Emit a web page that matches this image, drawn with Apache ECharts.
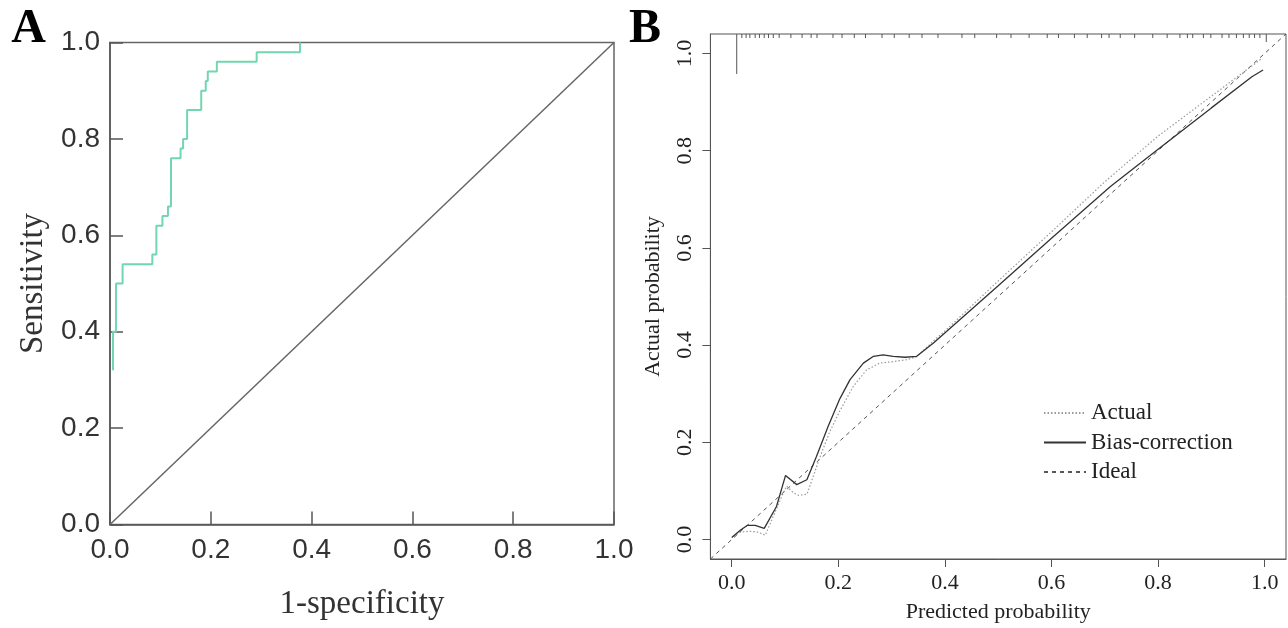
<!DOCTYPE html>
<html>
<head>
<meta charset="utf-8">
<script src="https://cdn.jsdelivr.net/npm/echarts@6/dist/echarts.min.js"></script>
<style>
html,body{margin:0;padding:0;background:#fff;}
#c{width:1288px;height:628px;}
</style>
</head>
<body>
<div id="c"></div>
<script>
// ---- Panel A: ROC curve (step vertices, step 'end') ----
const rocFpr = [0.006,0.006,0.012,0.025,0.084,0.092,0.104,0.115,0.121,0.140,0.145,0.153,0.181,0.190,0.194,0.212,0.291,0.377];
const rocTpr = [0.32,0.40,0.50,0.54,0.56,0.62,0.64,0.66,0.76,0.78,0.80,0.86,0.90,0.92,0.94,0.96,0.98,1.00];
const diagX = [0,1];
const diagY = [0,1];
const tickValues = [0,0.2,0.4,0.6,0.8,1.0];

// ---- Panel B: calibration curves ----
const biasX = [0.000,0.016,0.029,0.044,0.061,0.084,0.101,0.122,0.141,0.159,0.181,0.203,0.222,0.247,0.266,0.284,0.303,0.325,0.347,0.378,0.403,0.500,0.600,0.710,0.800,0.900,0.976,0.997];
const biasY = [0.004,0.019,0.029,0.029,0.023,0.068,0.132,0.113,0.123,0.171,0.233,0.290,0.329,0.363,0.377,0.380,0.377,0.375,0.377,0.404,0.428,0.522,0.620,0.726,0.803,0.888,0.952,0.966];
const actualX = [0.003,0.016,0.031,0.047,0.063,0.078,0.094,0.103,0.116,0.125,0.141,0.153,0.166,0.184,0.203,0.228,0.253,0.278,0.303,0.328,0.347,0.380,0.403,0.500,0.600,0.700,0.800,0.900,0.995];
const actualY = [0.007,0.015,0.017,0.016,0.009,0.048,0.089,0.110,0.096,0.091,0.093,0.130,0.171,0.222,0.265,0.315,0.349,0.363,0.366,0.370,0.376,0.410,0.432,0.532,0.633,0.736,0.830,0.912,0.990];
const idealX = [-0.04,1.04];
const idealY = [-0.04,1.04];
const rugX = [0.0094,0.019,0.027,0.034,0.044,0.052,0.061,0.069,0.078,0.089,0.111,0.132,0.149,0.160,0.190,0.207,0.230,0.251,0.282,0.305,0.333,0.357,0.387,0.432,0.456,0.497,0.524,0.558,0.592,0.613,0.643,0.667,0.694,0.708,0.729,0.756,0.790,0.817,0.841,0.855,0.865,0.885,0.899,0.920,0.933,0.947,0.960,0.971,0.981,0.991,1.003];
const rugCount = [10,1,1,1,1,1,1,1,1,1,1,1,1,1,1,1,1,1,1,1,1,1,1,1,1,1,1,1,1,1,1,1,1,1,1,1,1,1,1,1,1,1,1,1,1,1,1,1,1,1,2];

const zip = (a,b) => a.map((v,i)=>[v,b[i]]);
const fmt = v => v.toFixed(1);
const serif = 'Liberation Serif';
const sans = 'Liberation Sans';

const chart = echarts.init(document.getElementById('c'), null, {renderer:'canvas'});
chart.setOption({
  animation:false,
  backgroundColor:'#ffffff',
  graphic:[
    {type:'text', x:28.5, y:30, style:{text:'A', font:'bold 48px "Liberation Serif"', fill:'#000', align:'center', verticalAlign:'middle'}},
    {type:'text', x:645, y:30, style:{text:'B', font:'bold 48px "Liberation Serif"', fill:'#000', align:'center', verticalAlign:'middle'}}
  ],
  grid:[
    {left:110, top:42.5, width:504, height:482, show:true, borderColor:'#666', borderWidth:1.5, backgroundColor:'transparent', containLabel:false},
    {left:710.4, top:34, width:575.6, height:525.5, show:true, borderColor:'#555', borderWidth:1, backgroundColor:'transparent', containLabel:false}
  ],
  xAxis:[
    {gridIndex:0, type:'value', min:0, max:1, interval:0.2,
     axisLine:{show:true, onZero:false, lineStyle:{color:'#555', width:1.5}},
     axisTick:{show:true, inside:true, length:13, lineStyle:{color:'#555', width:1.5}},
     axisLabel:{formatter:fmt, fontFamily:sans, fontSize:28, color:'#333', margin:12},
     splitLine:{show:false},
     name:'1-specificity', nameLocation:'middle', nameGap:63,
     nameTextStyle:{fontFamily:serif, fontSize:33, color:'#333'}},
    {gridIndex:1, type:'value', min:-0.04, max:1.04,
     axisLine:{show:true, onZero:false, lineStyle:{color:'#555', width:1}},
     axisTick:{show:true, length:8, customValues:tickValues, lineStyle:{color:'#555', width:1}},
     axisLabel:{customValues:tickValues, formatter:fmt, fontFamily:serif, fontSize:22, color:'#222', margin:13},
     splitLine:{show:false},
     name:'Predicted probability', nameLocation:'middle', nameGap:42,
     nameTextStyle:{fontFamily:serif, fontSize:22, color:'#222'}}
  ],
  yAxis:[
    {gridIndex:0, type:'value', min:0, max:1, interval:0.2,
     axisLine:{show:true, onZero:false, lineStyle:{color:'#555', width:1.5}},
     axisTick:{show:true, inside:true, length:13, lineStyle:{color:'#555', width:1.5}},
     axisLabel:{formatter:fmt, fontFamily:sans, fontSize:28, color:'#333', margin:10},
     splitLine:{show:false},
     name:'Sensitivity', nameLocation:'middle', nameGap:60, nameRotate:90,
     nameTextStyle:{fontFamily:serif, fontSize:33, color:'#333'}},
    {gridIndex:1, type:'value', min:-0.04, max:1.04,
     axisLine:{show:true, onZero:false, lineStyle:{color:'#555', width:1}},
     axisTick:{show:true, length:8, customValues:tickValues, lineStyle:{color:'#555', width:1}},
     axisLabel:{customValues:tickValues, formatter:fmt, fontFamily:serif, fontSize:22, color:'#222', margin:14, rotate:90},
     splitLine:{show:false},
     name:'Actual probability', nameLocation:'middle', nameGap:46, nameRotate:90,
     nameTextStyle:{fontFamily:serif, fontSize:22, color:'#222'}}
  ],
  legend:{
    data:['Actual','Bias-correction','Ideal'],
    orient:'vertical', left:1043, top:401, padding:0,
    itemWidth:42, itemHeight:10, itemGap:5.5,
    itemStyle:{opacity:0},
    textStyle:{fontFamily:serif, fontSize:23, color:'#222', lineHeight:24},
    selectedMode:false
  },
  series:[
    {type:'line', name:'diag', xAxisIndex:0, yAxisIndex:0, data:zip(diagX,diagY), symbol:'none',
     itemStyle:{color:'#666'}, lineStyle:{color:'#666', width:1.5}, z:2},
    {type:'line', name:'ROC', xAxisIndex:0, yAxisIndex:0, data:zip(rocFpr,rocTpr), step:'end', symbol:'none',
     itemStyle:{color:'#72d6b0'}, lineStyle:{color:'#72d6b0', width:2}, z:3},
    {type:'line', name:'Ideal', xAxisIndex:1, yAxisIndex:1, data:zip(idealX,idealY), symbol:'none',
     itemStyle:{color:'#555'}, lineStyle:{color:'#555', width:1, type:[4,4]}, z:2},
    {type:'line', name:'Actual', xAxisIndex:1, yAxisIndex:1, data:zip(actualX,actualY), symbol:'none',
     itemStyle:{color:'#9a9a9a'}, lineStyle:{color:'#9a9a9a', width:1.2, type:[1.5,2]}, z:3},
    {type:'line', name:'Bias-correction', xAxisIndex:1, yAxisIndex:1, data:zip(biasX,biasY), symbol:'none',
     itemStyle:{color:'#333'}, lineStyle:{color:'#333', width:1.3}, z:4},
    {type:'custom', name:'rug', xAxisIndex:1, yAxisIndex:1, data:zip(rugX,rugCount), clip:false,
     renderItem:function(params, api){
       const p = api.coord([api.value(0), 1.04]);
       const len = api.value(1) * 4;
       return {type:'line', shape:{x1:p[0], y1:p[1], x2:p[0], y2:p[1]+len},
               style:{stroke:'#555', lineWidth:1}};
     }, z:5}
  ]
});
</script>
</body>
</html>
